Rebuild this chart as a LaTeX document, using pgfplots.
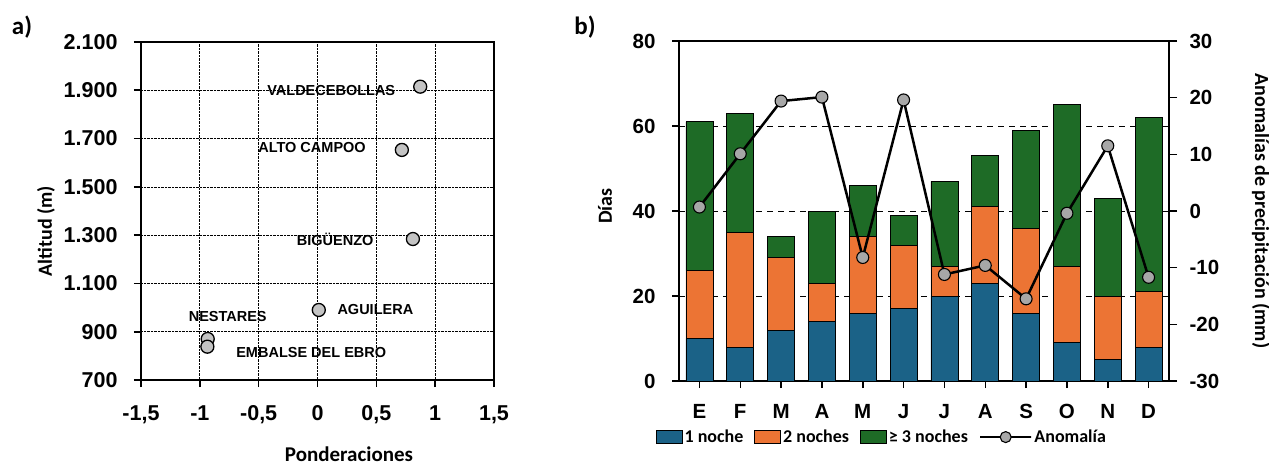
\documentclass[border=0pt]{standalone}
\usepackage{fontspec}
\setmainfont{Carlito}
\newfontfamily\arial{Liberation Sans}
\usepackage{pgfplots}
\pgfplotsset{compat=1.18}
\definecolor{cblue}{HTML}{1B6287}
\definecolor{corange}{HTML}{EC7434}
\definecolor{cgreen}{HTML}{1E6B26}
\definecolor{mgray}{HTML}{C4C4C4}
\pgfplotsset{
  barlegimg/.style={legend image code/.code={\draw[##1] (0pt,-6.5pt) rectangle (26pt,6.5pt);}},
  linelegimg/.style={legend image code/.code={\draw[##1, mark repeat=2, mark phase=2] plot coordinates {(0pt,0pt) (12pt,0pt) (24pt,0pt)};}},
}
\begin{document}
\begin{tikzpicture}[x=1pt,y=1pt]
\useasboundingbox (0,0) rectangle (1269,464);
% ---------------- panel a
\begin{axis}[
  at={(141pt,84pt)}, anchor=south west, scale only axis,
  width=353pt, height=338pt,
  xmin=-1.5, xmax=1.5, ymin=700, ymax=2100,
  xtick={-1.5,-1,-0.5,0,0.5,1,1.5},
  xticklabels={{-1,5},{-1},{-0,5},{0},{0,5},{1},{1,5}},
  ytick={700,900,1100,1300,1500,1700,1900,2100},
  yticklabels={700,900,{1.100},{1.300},{1.500},{1.700},{1.900},{2.100}},
  grid=major, major grid style={black, densely dotted, line width=0.7pt},
  axis line style={line width=2.2pt},
  tick style={black, line width=1.6pt}, tick align=outside, major tick length=7pt,
  xtick pos=bottom, ytick pos=left,
  ticklabel style={font=\arial\bfseries\fontsize{21.5}{21.5}\selectfont},
  yticklabel style={xshift=-13pt},
  xticklabel style={yshift=-15pt},
  clip=false,
]
\addplot[only marks, mark=*, mark size=6.5pt,
  mark options={fill=mgray, draw=black, line width=1.3pt}] coordinates {
  (0.873,1915) (0.717,1653) (0.811,1284) (0.011,990) (-0.933,870) (-0.936,838)};
\begin{scope}[font=\arial\bfseries\fontsize{14.5}{14.5}\selectfont]
\node[anchor=east] at (axis cs:0.69,1901) {VALDECEBOLLAS};
\node[anchor=east] at (axis cs:0.44,1662) {ALTO CAMPOO};
\node[anchor=east] at (axis cs:0.505,1284) {BIGÜENZO};
\node[anchor=west] at (axis cs:0.14,990) {AGUILERA};
\node at (axis cs:-0.763,962) {NESTARES};
\node[anchor=west] at (axis cs:-0.72,813) {EMBALSE DEL EBRO};
\end{scope}
\end{axis}
% ---------------- panel b bars
\begin{axis}[
  at={(679pt,83pt)}, anchor=south west, scale only axis,
  width=490pt, height=340pt,
  xmin=-0.5, xmax=11.5, ymin=0, ymax=80,
  ybar stacked, bar width=27pt,
  xtick={0,...,11}, xticklabels={E,F,M,A,M,J,J,A,S,O,N,D},
  ytick={0,20,40,60,80}, yticklabels={0,20,40,60,80},
  ymajorgrids, major grid style={black, line width=1pt, dash pattern=on 6pt off 5pt},
  axis line style={line width=1.8pt},
  tick style={black, line width=1.5pt}, tick align=outside, major tick length=7pt,
  xtick pos=bottom, ytick pos=left,
  ticklabel style={font=\arial\bfseries\fontsize{20.5}{20.5}\selectfont},
  yticklabel style={xshift=-13pt},
  xticklabel style={yshift=-13pt},
  legend style={at={(0.414,-0.165)}, anchor=center, draw=none, fill=none,
    font=\bfseries\fontsize{18}{18}\selectfont,
    nodes={inner xsep=2pt},
    /tikz/every even column/.append style={column sep=9pt}},
  legend columns=4,
  barlegimg,
]
\addplot[fill=cblue, draw=black, line width=0.8pt] coordinates {
  (0,10) (1,8) (2,12) (3,14) (4,16) (5,17) (6,20) (7,23) (8,16) (9,9) (10,5) (11,8)};
\addlegendentry{1 noche}
\addplot[fill=corange, draw=black, line width=0.8pt] coordinates {
  (0,16) (1,27) (2,17) (3,9) (4,18) (5,15) (6,7) (7,18) (8,20) (9,18) (10,15) (11,13)};
\addlegendentry{2 noches}
\addplot[fill=cgreen, draw=black, line width=0.8pt] coordinates {
  (0,35) (1,28) (2,5) (3,17) (4,12) (5,7) (6,20) (7,12) (8,23) (9,38) (10,23) (11,41)};
\addlegendentry{≥ 3 noches}
\addlegendimage{black, line width=2.5pt, mark=*, mark size=5.5pt,
  mark options={fill=mgray!85!black, line width=1.1pt}, linelegimg}
\addlegendentry{Anomalía}
\end{axis}
% ---------------- panel b anomaly
\begin{axis}[
  at={(679pt,83pt)}, anchor=south west, scale only axis,
  width=490pt, height=340pt,
  xmin=-0.5, xmax=11.5, ymin=-30, ymax=30,
  axis x line=none, axis y line*=right,
  ytick={-30,-20,-10,0,10,20,30},
  axis line style={line width=1.8pt},
  tick style={black, line width=1.5pt}, tick align=outside, major tick length=8pt,
  ticklabel style={font=\arial\bfseries\fontsize{20.5}{20.5}\selectfont},
  yticklabels={-30,-20,-10,0,10,20,30},
  yticklabel style={xshift=9pt},
  clip=false,
]
\addplot[black, line width=2.5pt, mark=*, mark size=6pt,
  mark options={fill=mgray!85!black, line width=1.1pt}] coordinates {
  (0,0.7) (1,10.1) (2,19.4) (3,20.1) (4,-8.2) (5,19.6) (6,-11.2) (7,-9.6) (8,-15.5) (9,-0.4) (10,11.5) (11,-11.7)};
\end{axis}
% ---------------- labels
\node[font=\bfseries\fontsize{25}{25}\selectfont] at (22,437) {a)};
\node[font=\bfseries\fontsize{25}{25}\selectfont] at (585,437) {b)};
\node[rotate=90, font=\bfseries\fontsize{20}{20}\selectfont] at (46,233) {Altitud (m)};
\node[anchor=base, inner sep=0pt, font=\bfseries\fontsize{21}{21}\selectfont] at (349,3) {Ponderaciones};
\node[rotate=90, font=\bfseries\fontsize{20}{20}\selectfont] at (605,258) {Días};
\node[rotate=-90, font=\bfseries\fontsize{20}{20}\selectfont] at (1261,253) {Anomalías de precipitación (mm)};
\end{tikzpicture}
\end{document}
